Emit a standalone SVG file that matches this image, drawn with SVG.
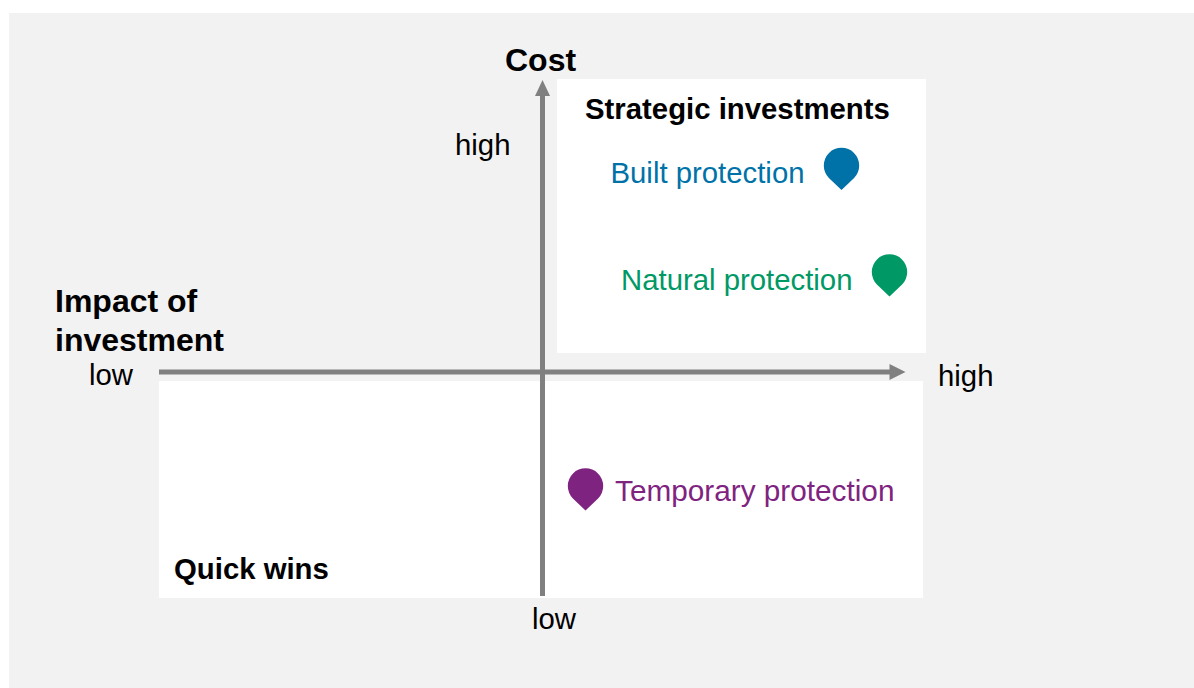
<svg xmlns="http://www.w3.org/2000/svg" width="1194" height="688" viewBox="0 0 1194 688">
<style>
text{font-family:"Liberation Sans",Arial,sans-serif;font-size:29.33px;fill:#000}
.b{font-weight:bold}
.t{font-size:32px}
.c{fill:#fff}
.a{stroke:#808080;stroke-width:5;fill:none}
.h{fill:#808080}
</style>
<defs><path id="pin" d="M0 24.500L-12.600 12.400A17.700 17.700 0 1 1 12.600 12.400Z"/></defs>
<rect x="0" y="0" width="1194" height="688" fill="#fff"/>
<rect x="9" y="13" width="1185" height="675" fill="#f2f2f2"/>
<g id="quadrant-strategic"><rect class="c" x="557" y="79" width="369" height="274"/><text class="b" x="585" y="119">Strategic investments</text></g>
<g id="quadrant-quick"><rect class="c" x="159" y="381" width="764" height="217"/><text class="b" x="174" y="578.500">Quick wins</text></g>
<g id="connectors">
<path class="a" d="M542.500 596V95"/><path class="h" d="M542.500 80L550 96H535Z"/>
<path class="a" d="M159 372H890"/><path class="h" d="M905.500 372L889.500 364V380Z"/>
</g>
<g id="axis-cost"><text class="b t" x="505" y="71">Cost</text><text x="455" y="154.500">high</text><text x="532" y="628.500">low</text></g>
<g id="axis-impact"><text class="b t" x="55" y="311.500">Impact of</text><text class="b t" x="55" y="351">investment</text><text x="89" y="385">low</text><text x="938" y="385.500">high</text></g>
<g id="built"><text x="610.500" y="183" style="fill:#0072a8">Built protection</text><use href="#pin" x="841.500" y="165.500" fill="#0072a8"/></g>
<g id="natural"><text x="621" y="290" style="fill:#009966">Natural protection</text><use href="#pin" x="889.500" y="272" fill="#009966"/></g>
<g id="temporary"><text x="615" y="501" style="fill:#7f2380;font-size:29.75px">Temporary protection</text><use href="#pin" x="585.500" y="486" fill="#7f2380"/></g>
</svg>
